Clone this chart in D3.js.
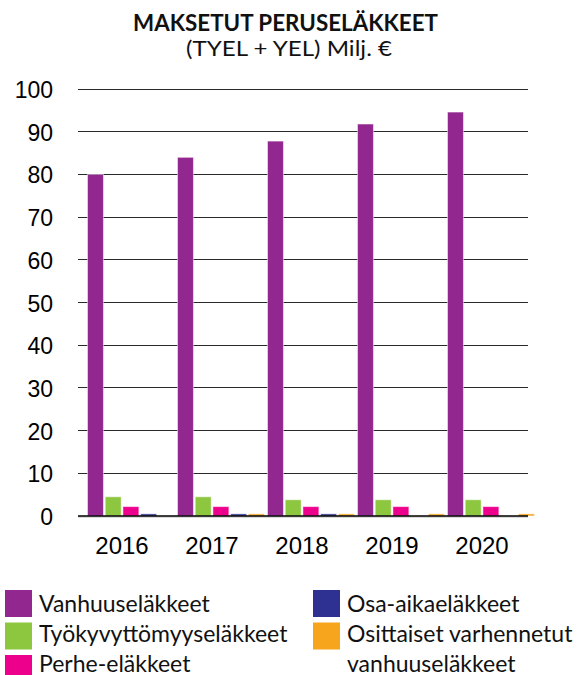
<!DOCTYPE html>
<html>
<head>
<meta charset="utf-8">
<script src="https://cdn.jsdelivr.net/npm/d3@7"></script>
<style>
  html, body { margin: 0; padding: 0; background: #fff; }
  svg { display: block; }
</style>
</head>
<body>
<svg id="chart" width="583" height="675"></svg>
<script>
const years = ["2016", "2017", "2018", "2019", "2020"];
const seriesNames = ["Vanhuuseläkkeet", "Työkyvyttömyyseläkkeet", "Perhe-eläkkeet", "Osa-aikaeläkkeet", "Osittaiset varhennetut vanhuuseläkkeet"];
const vanhuus = [80.0, 84.0, 87.8, 91.8, 94.6];
const tyokyvyttomyys = [4.5, 4.5, 3.8, 3.8, 3.8];
const perhe = [2.2, 2.2, 2.2, 2.2, 2.2];
const osaAika = [0.5, 0.5, 0.5, 0, 0];
const osittaiset = [0, 0.5, 0.5, 0.5, 0.5];
const colors = ["#92278f", "#8dc63f", "#ec008c", "#2e3192", "#f7a51c"];
const yTicks = [0, 10, 20, 30, 40, 50, 60, 70, 80, 90, 100];
const title = "MAKSETUT PERUSELÄKKEET";
const subtitle = "(TYEL + YEL) Milj. €";

const seriesValues = [vanhuus, tyokyvyttomyys, perhe, osaAika, osittaiset];

const svg = d3.select("#chart");
const plotLeft = 78, plotRight = 528, plotTop = 89, plotBottom = 516;

const x0 = d3.scaleBand().domain(years).range([plotLeft, plotRight]).padding(0);
const x1 = d3.scaleBand().domain(d3.range(seriesNames.length)).range([9.5, 96.3]).paddingInner(0.1);
const y = d3.scaleLinear().domain([0, 100]).range([plotBottom, plotTop]);

// title
svg.append("text").attr("x", 285.5).attr("y", 31).attr("text-anchor", "middle")
  .style("font-family", "Lato, sans-serif").style("font-weight", "bold").style("font-size", "22.5px")
  .attr("textLength", 305).attr("lengthAdjust", "spacingAndGlyphs")
  .attr("fill", "#111").text(title);
svg.append("text").attr("x", 289).attr("y", 56).attr("text-anchor", "middle")
  .style("font-family", "Lato, sans-serif").style("font-size", "21px")
  .attr("textLength", 206).attr("lengthAdjust", "spacingAndGlyphs")
  .attr("fill", "#111").text(subtitle);

// gridlines
svg.append("g").selectAll("line").data(yTicks.filter(d => d > 0)).join("line")
  .attr("x1", plotLeft).attr("x2", plotRight)
  .attr("y1", d => y(d)).attr("y2", d => y(d))
  .attr("stroke", "#2a2a2a").attr("stroke-width", 1).attr("shape-rendering", "crispEdges");

// y tick labels
svg.append("g").selectAll("text").data(yTicks).join("text")
  .attr("x", 53).attr("y", d => y(d) + 9)
  .attr("text-anchor", "end")
  .style("font-family", "'Liberation Sans', Arial, sans-serif").style("font-size", "23px")
  .attr("fill", "#000").text(d => d);

// bars
const groups = svg.append("g").selectAll("g").data(years).join("g")
  .attr("transform", d => `translate(${x0(d)},0)`);
groups.selectAll("rect")
  .data((yr, i) => seriesValues.map((vals, s) => ({ s, v: vals[i] })).filter(d => d.v > 0))
  .join("rect")
  .attr("x", d => x1(d.s)).attr("width", x1.bandwidth())
  .attr("y", d => y(d.v)).attr("height", d => y(0) - y(d.v))
  .attr("fill", d => colors[d.s])
  .attr("stroke", "#fff").attr("stroke-opacity", 0.5).attr("stroke-width", 1);

// baseline
svg.append("line").attr("x1", plotLeft).attr("x2", plotRight).attr("y1", y(0) + 1).attr("y2", y(0) + 1)
  .attr("stroke", "#ccc").attr("stroke-width", 1.5);
svg.append("line").attr("x1", plotLeft).attr("x2", plotRight).attr("y1", y(0)).attr("y2", y(0))
  .attr("stroke", "#000").attr("stroke-width", 1.5);

// x axis labels
const xAxis = d3.axisBottom(x0).tickSize(0).tickPadding(0);
const xg = svg.append("g").attr("transform", `translate(-1,${plotBottom + 21})`).call(xAxis);
xg.select(".domain").remove();
xg.selectAll("text")
  .style("font-family", "'Liberation Sans', Arial, sans-serif").style("font-size", "24px")
  .attr("fill", "#000").attr("dy", "0.71em");

// legend
const legendItems = [
  { s: 0, x: 5, row: 0, lines: ["Vanhuuseläkkeet"] },
  { s: 1, x: 5, row: 1, lines: ["Työkyvyttömyyseläkkeet"] },
  { s: 2, x: 5, row: 2, lines: ["Perhe-eläkkeet"] },
  { s: 3, x: 313, row: 0, lines: ["Osa-aikaeläkkeet"] },
  { s: 4, x: 313, row: 1, lines: ["Osittaiset varhennetut", "vanhuuseläkkeet"] }
];
const lg = svg.append("g");
legendItems.forEach(it => {
  lg.append("rect").attr("x", it.x).attr("y", 590 + it.row * 32.5).attr("width", 27).attr("height", 27)
    .attr("fill", colors[it.s]);
  const t = lg.append("text").attr("x", it.x + 34).attr("y", 612 + it.row * 30)
    .style("font-family", "Lato, sans-serif").style("font-size", "23px").attr("fill", "#111");
  it.lines.forEach((ln, k) => {
    t.append("tspan").attr("x", it.x + 34).attr("dy", k === 0 ? 0 : 30).text(ln);
  });
});
</script>
</body>
</html>
